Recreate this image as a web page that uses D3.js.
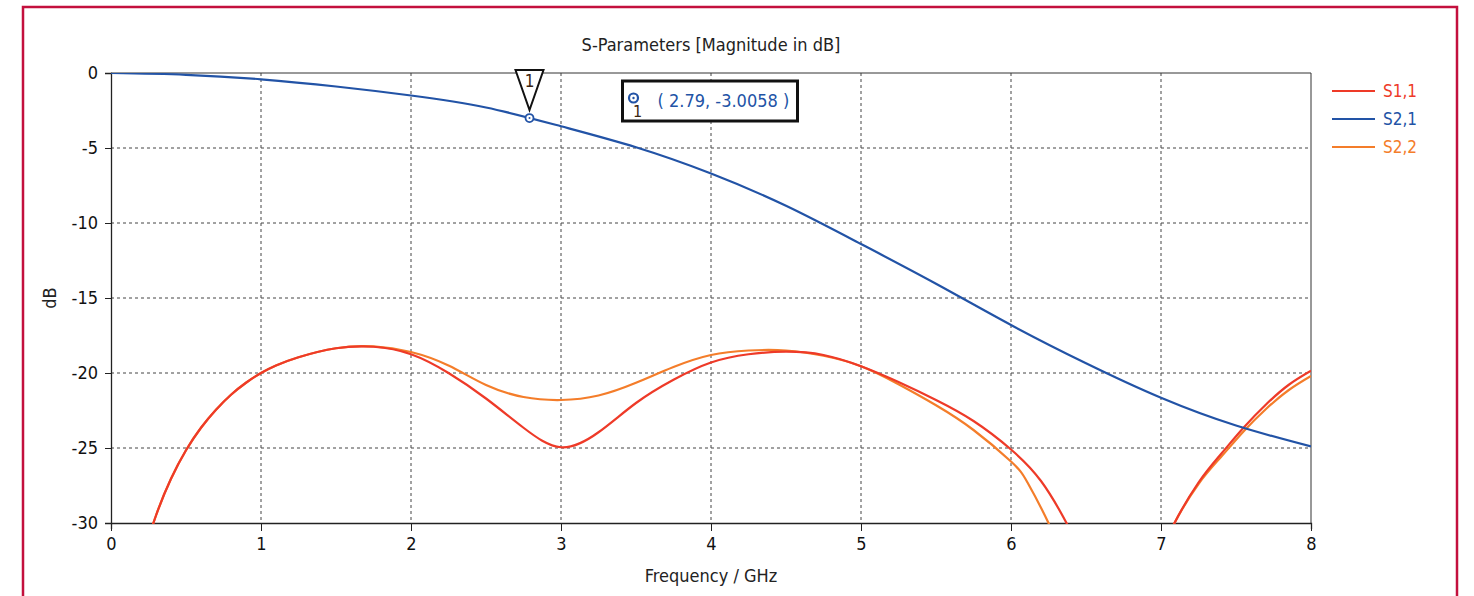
<!DOCTYPE html>
<html>
<head>
<meta charset="utf-8">
<script src="https://cdn.jsdelivr.net/npm/d3@7"></script>
<style>
  body { margin: 0; background: #fff; }
  svg text { font-family: "DejaVu Sans Condensed", "DejaVu Sans", sans-serif; }
</style>
</head>
<body>
<div id="chart"></div>
<script>
// data: [frequency GHz, dB]
// (first/last points of the S11/S22 pieces lie just below -30 and are clipped)
var s21 = [[0, 0], [0.5, -0.12], [1, -0.42], [1.5, -0.9], [2, -1.5], [2.5, -2.3],
  [3, -3.55], [3.5, -4.95], [4, -6.7], [4.5, -8.85], [5, -11.4], [5.5, -14.05], [6, -16.8],
  [6.5, -19.35], [7, -21.65], [7.5, -23.5], [8, -24.9]];

var s11a = [[0.2, -32.6], [0.3, -29.5], [0.4, -27.05], [0.5, -25.15], [0.6, -23.65], [0.7, -22.45],
  [0.8, -21.45], [0.9, -20.65], [1, -20], [1.1, -19.5], [1.25, -18.95], [1.5, -18.35], [1.75, -18.25],
  [2, -18.75], [2.25, -20], [2.5, -21.7], [2.75, -23.65], [3, -24.95], [3.25, -23.95], [3.5, -22.0],
  [3.75, -20.45], [4, -19.3], [4.25, -18.75], [4.5, -18.58], [4.75, -18.8], [5, -19.55], [5.25, -20.6],
  [5.5, -21.8], [5.75, -23.2], [6, -25.1], [6.2, -27.2], [6.37, -30], [6.5, -32.6]];
var s11b = [[6.98, -32.4], [7.09, -30], [7.25, -27.3], [7.4, -25.4], [7.55, -23.65], [7.7, -22.1], [7.85, -20.8], [8, -19.85]];

var s22a = [[0.2, -32.6], [0.3, -29.5], [0.4, -27.05], [0.5, -25.15], [0.6, -23.65], [0.7, -22.45],
  [0.8, -21.45], [0.9, -20.65], [1, -20], [1.1, -19.5], [1.25, -18.95], [1.5, -18.35], [1.75, -18.22],
  [2, -18.6], [2.25, -19.5], [2.5, -20.8], [2.75, -21.6], [3, -21.8], [3.25, -21.5], [3.5, -20.65],
  [3.75, -19.6], [4, -18.8], [4.25, -18.5], [4.5, -18.5], [4.75, -18.85], [5, -19.55], [5.25, -20.75],
  [5.5, -22.15], [5.75, -23.8], [6, -25.9], [6.11, -27.3], [6.25, -30], [6.36, -32.6]];
var s22b = [[6.98, -32.4], [7.09, -30], [7.25, -27.4], [7.4, -25.6], [7.55, -23.9], [7.7, -22.4], [7.85, -21.15], [8, -20.2]];

var xTicks = [0, 1, 2, 3, 4, 5, 6, 7, 8];
var yTicks = [0, -5, -10, -15, -20, -25, -30];
var legendNames = ["S1,1", "S2,1", "S2,2"];
var colors = ["#ee3a28", "#2253a6", "#f47d2a"];
var markerPoint = [2.79, -3.0058];

var svgWidth = 1474;
var svgHeight = 596;
var margin = {top: 73, right: 163, bottom: 73, left: 111};
var width = svgWidth - margin.left - margin.right;
var height = svgHeight - margin.top - margin.bottom;

var svg = d3.select("#chart").append("svg")
  .attr("width", svgWidth)
  .attr("height", svgHeight);

// outer frame
svg.append("rect")
  .attr("x", 23).attr("y", 7)
  .attr("width", 1434).attr("height", 620)
  .attr("fill", "none")
  .attr("stroke", "#c3103d")
  .attr("stroke-width", 2.5);

var chartGroup = svg.append("g")
  .attr("transform", `translate(${margin.left}, ${margin.top})`);

var x = d3.scaleLinear().domain([0, 8]).range([0, width]);
var y = d3.scaleLinear().domain([-30, 0]).range([height, 0]);

// grid
chartGroup.append("g").selectAll("line")
  .data(xTicks.slice(1, -1))
  .enter().append("line")
  .attr("x1", d => x(d)).attr("x2", d => x(d))
  .attr("y1", 0).attr("y2", height)
  .attr("stroke", "#444").attr("stroke-dasharray", "3,3");
chartGroup.append("g").selectAll("line")
  .data(yTicks.slice(1, -1))
  .enter().append("line")
  .attr("x1", 0).attr("x2", width)
  .attr("y1", d => y(d)).attr("y2", d => y(d))
  .attr("stroke", "#444").attr("stroke-dasharray", "3,3");

// box top / right
chartGroup.append("path")
  .attr("d", `M0,0H${width}V${height}`)
  .attr("fill", "none").attr("stroke", "#333").attr("stroke-width", 1);

// axes (plain hyphen for negatives, like the original)
var bottomAxis = d3.axisBottom(x).tickValues(xTicks).tickSize(6).tickPadding(8).tickFormat(d => String(d));
var leftAxis = d3.axisLeft(y).tickValues(yTicks).tickSize(6).tickPadding(7).tickFormat(d => String(d));

var xAxis = chartGroup.append("g")
  .attr("transform", `translate(0, ${height})`)
  .call(bottomAxis);
var yAxis = chartGroup.append("g").call(leftAxis);

[xAxis, yAxis].forEach(function(a) {
  a.attr("font-size", null).attr("font-family", null);
  a.select(".domain").attr("stroke", "#222").attr("stroke-width", 1.3);
  a.selectAll(".tick line").attr("stroke", "#222");
  a.selectAll("text").style("font-size", "18px").attr("fill", "#111");
});
xAxis.selectAll(".tick line").attr("y2", 8);

// clip
chartGroup.append("clipPath").attr("id", "clip")
  .append("rect").attr("width", width).attr("height", height + 1);

var line = d3.line()
  .x(d => x(d[0]))
  .y(d => y(d[1]))
  .curve(d3.curveNatural);

var lines = chartGroup.append("g").attr("clip-path", "url(#clip)");
var series = [
  {data: s22a, color: colors[2]},
  {data: s22b, color: colors[2]},
  {data: s11a, color: colors[0]},
  {data: s11b, color: colors[0]},
  {data: s21, color: colors[1]}
];
lines.selectAll("path")
  .data(series)
  .enter().append("path")
  .attr("d", d => line(d.data))
  .attr("fill", "none")
  .attr("stroke", d => d.color)
  .attr("stroke-width", 2.2);

// marker on S2,1
var mx = x(markerPoint[0]);
var my = y(markerPoint[1]);
chartGroup.append("circle")
  .attr("cx", mx).attr("cy", my).attr("r", 4)
  .attr("fill", "#fff").attr("stroke", colors[1]).attr("stroke-width", 1.8);
chartGroup.append("circle")
  .attr("cx", mx).attr("cy", my).attr("r", 1)
  .attr("fill", colors[1]);
chartGroup.append("path")
  .attr("d", `M${mx - 14},${-3}L${mx + 14},${-3}L${mx},${my - 8}Z`)
  .attr("fill", "#fff").attr("stroke", "#111").attr("stroke-width", 2);
chartGroup.append("text")
  .attr("x", mx).attr("y", 14)
  .attr("text-anchor", "middle")
  .attr("font-size", "17px").attr("fill", "#3a2410")
  .text("1");

// marker readout box
var bx = mx + 93, by = 8;
chartGroup.append("rect")
  .attr("x", bx).attr("y", by)
  .attr("width", 175).attr("height", 40)
  .attr("fill", "#fff").attr("stroke", "#111").attr("stroke-width", 3);
chartGroup.append("circle")
  .attr("cx", bx + 11).attr("cy", by + 17).attr("r", 4.5)
  .attr("fill", "none").attr("stroke", colors[1]).attr("stroke-width", 2.2);
chartGroup.append("circle")
  .attr("cx", bx + 11).attr("cy", by + 17).attr("r", 1.2)
  .attr("fill", colors[1]);
chartGroup.append("text")
  .attr("x", bx + 15).attr("y", by + 36)
  .attr("text-anchor", "middle")
  .attr("font-size", "16px").attr("fill", "#3a2410")
  .text("1");
chartGroup.append("text")
  .attr("x", bx + 35).attr("y", by + 26)
  .attr("font-size", "18px").attr("fill", colors[1])
  .text(`( ${markerPoint[0]}, ${markerPoint[1]} )`);

// title and axis labels
svg.append("text")
  .attr("x", margin.left + width / 2).attr("y", 51)
  .attr("text-anchor", "middle")
  .attr("font-size", "18px").attr("fill", "#222")
  .text("S-Parameters [Magnitude in dB]");
svg.append("text")
  .attr("x", margin.left + width / 2).attr("y", 582)
  .attr("text-anchor", "middle")
  .attr("font-size", "18px").attr("fill", "#222")
  .text("Frequency / GHz");
svg.append("text")
  .attr("transform", "rotate(-90)")
  .attr("x", -(margin.top + height / 2)).attr("y", 56)
  .attr("text-anchor", "middle")
  .attr("font-size", "18px").attr("fill", "#222")
  .text("dB");

// legend
var legend = svg.append("g").attr("transform", "translate(1332, 91)");
var legendRows = legend.selectAll("g")
  .data(legendNames)
  .enter().append("g")
  .attr("transform", (d, i) => `translate(0, ${[0, 28, 56][i]})`);
legendRows.append("line")
  .attr("x1", 0).attr("x2", 43)
  .attr("stroke", (d, i) => colors[i]).attr("stroke-width", 2.2);
legendRows.append("text")
  .attr("x", 51).attr("y", 6)
  .attr("font-size", "17px")
  .attr("fill", (d, i) => colors[i])
  .text(d => d);
</script>
</body>
</html>
